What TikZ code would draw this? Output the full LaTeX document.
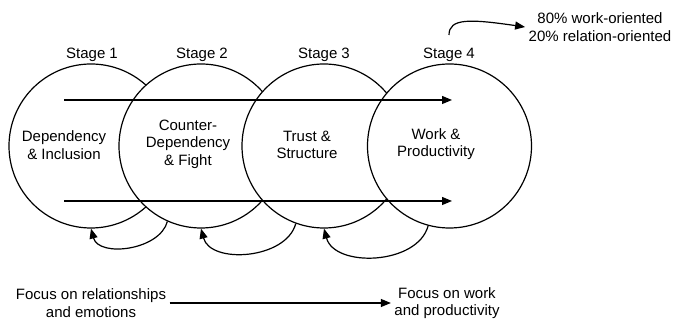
\documentclass[tikz,border=0pt]{standalone}
\usepackage{fontspec}
\setmainfont{Liberation Sans}
\usetikzlibrary{arrows.meta}
\begin{document}
\begin{tikzpicture}[x=1pt,y=-1pt,
  line width=1.2pt,
  stagecircle/.style={circle,draw,fill=white,minimum size=164pt,inner sep=0pt},
  lbl/.style={align=center,inner sep=3pt,font=\fontsize{15}{17.5}\selectfont},
  arr/.style={-{Triangle[length=10pt,width=8pt]}}]
\useasboundingbox (0,0) rectangle (673,320);
% circles
\node[stagecircle] (c1) at (91,146) {};
\node[stagecircle] (c2) at (201,146) {};
\node[stagecircle] (c3) at (324,146) {};
\node[stagecircle] (c4) at (449.5,146) {};
% stage labels
\node[lbl] (s1) at (92,55) {Stage 1};
\node[lbl] (s2) at (202,55) {Stage 2};
\node[lbl] (s3) at (324,55) {Stage 3};
\node[lbl] (s4) at (449,55) {Stage 4};
% inner texts
\node[lbl] (t1) at (64,145) {Dependency\\\& Inclusion};
\node[lbl] (t2) at (188,144) {Counter-\\Dependency\\\& Fight};
\node[lbl] (t3) at (307,145) {Trust \&\\Structure};
\node[lbl] (t4) at (436,144) {Work \&\\Productivity};
% horizontal arrows
\coordinate (h1s) at (64,100);
\coordinate (h1e) at (452,100);
\coordinate (h2s) at (64,201);
\coordinate (h2e) at (452,201);
\draw[arr] (h1s) -- (h1e);
\draw[arr] (h2s) -- (h2e);
% return arrows
\draw[arr] (c2.246) to[out=-105,in=-75] (c1.south);
\draw[arr] (c3.250) to[out=-105,in=-75] (c2.south);
\draw[arr] (c4.255) to[out=-105,in=-75] (c3.south);
% top-right
\node[lbl] (ratio) at (600,27) {80\% work-oriented\\20\% relation-oriented};
\coordinate (ts) at (449,35);
\draw[arr] (ts) .. controls (449,18) and (470,19) .. (ratio.west);
% bottom
\node[lbl] (f1) at (91,303) {Focus on relationships\\and emotions};
\node[lbl] (f2) at (447,303) {Focus on work\\and productivity};
\draw[arr] (f1.east) -- (f2.west);
\end{tikzpicture}
\end{document}
